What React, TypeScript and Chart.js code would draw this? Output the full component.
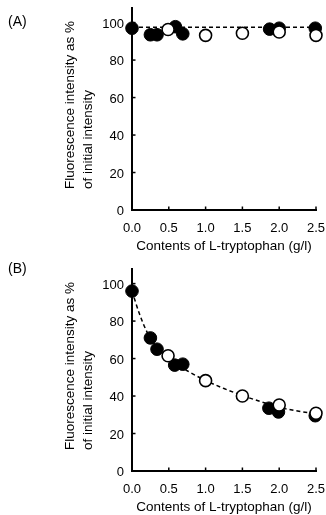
import React, { useEffect, useRef } from "react";
import { Chart, registerables } from "chart.js";

Chart.register(...registerables);

const FONT = "'Liberation Sans', Arial, Helvetica, sans-serif";
Chart.defaults.font.family = FONT;

// Axis ticks
const xTickValues = [0, 0.5, 1.0, 1.5, 2.0, 2.5];
const xTickLabels = ["0.0", "0.5", "1.0", "1.5", "2.0", "2.5"];
const yTickValues = [0, 20, 40, 60, 80, 100];
const yTickLabels = ["0", "20", "40", "60", "80", "100"];

const xTitle = "Contents of L-tryptophan (g/l)";
const yTitle = ["Fluorescence intensity as %", "of initial intensity"];

// Panel A
const aFilledX = [0, 0.25, 0.34, 0.59, 0.69, 1.87, 2.0, 2.49];
const aFilledY = [97, 93.5, 93.5, 97.8, 94, 96.5, 97, 97];
const aOpenX = [0.49, 1.0, 1.5, 2.0, 2.5];
const aOpenY = [96.3, 93.2, 94.3, 95, 93.2];
const aLineX = [0, 2.5];
const aLineY = [97.5, 97.5];

// Panel B
const bFilledX = [0, 0.25, 0.34, 0.58, 0.69, 1.86, 1.99, 2.49];
const bFilledY = [96, 71, 65, 56.5, 57, 33.5, 31.5, 29.5];
const bOpenX = [0.49, 1.0, 1.5, 2.0, 2.5];
const bOpenY = [61.5, 48.2, 40, 35.2, 30.8];
const bCurveX = [0, 0.1, 0.2, 0.3, 0.4, 0.5, 0.6, 0.75, 1.0, 1.25, 1.5, 1.75, 2.0, 2.25, 2.5];
const bCurveY = [96, 84, 74.5, 68, 63.5, 60.5, 57.5, 53.5, 48.3, 44, 40.3, 37, 34, 32, 30.5];

const zip = (xs: number[], ys: number[]) => xs.map((x, i) => ({ x, y: ys[i] }));

function makeDecor(panelLabel: string, panelLabelY: number) {
  return {
    id: "decor",
    beforeDatasetsDraw(chart: any) {
      const { ctx, chartArea: ca, scales } = chart;
      const x = scales.x;
      const y = scales.y;
      ctx.save();
      ctx.strokeStyle = "#000";
      ctx.lineWidth = 1.5;
      for (const t of x.ticks) {
        const px = x.getPixelForValue(t.value);
        ctx.beginPath();
        ctx.moveTo(px, ca.bottom);
        ctx.lineTo(px, ca.bottom - 3.5);
        ctx.stroke();
      }
      for (const t of y.ticks) {
        const py = y.getPixelForValue(t.value);
        ctx.beginPath();
        ctx.moveTo(ca.left, py);
        ctx.lineTo(ca.left + 3.5, py);
        ctx.stroke();
      }
      ctx.fillStyle = "#000";
      ctx.font = `13.5px ${FONT}`;
      ctx.textBaseline = "middle";
      ctx.textAlign = "center";
      ctx.fillText(xTitle, (ca.left + ca.right) / 2, ca.bottom + 36);
      ctx.textAlign = "left";
      ctx.font = `14px ${FONT}`;
      ctx.fillText(panelLabel, 8, panelLabelY);
      ctx.font = `13.5px ${FONT}`;
      ctx.translate(ca.left - 61.5, ca.bottom - 21);
      ctx.rotate(-Math.PI / 2);
      ctx.fillText(yTitle[0], 0, 0);
      ctx.fillText(yTitle[1], 0, 18);
      ctx.restore();
    },
  };
}

type PanelProps = {
  label: string;
  labelY: number;
  height: number;
  filledX: number[];
  filledY: number[];
  openX: number[];
  openY: number[];
  lineX: number[];
  lineY: number[];
};

function Panel(p: PanelProps) {
  const ref = useRef<HTMLCanvasElement>(null);
  useEffect(() => {
    if (!ref.current) return;
    const H = p.height;
    const chart = new Chart(ref.current, {
      type: "scatter",
      data: {
        datasets: [
          {
            data: zip(p.openX, p.openY),
            backgroundColor: "#fff",
            borderColor: "#000",
            borderWidth: 1.6,
            pointRadius: 6,
            clip: false,
            order: 1,
          } as any,
          {
            data: zip(p.filledX, p.filledY),
            backgroundColor: "#000",
            borderColor: "#000",
            borderWidth: 1,
            pointRadius: 6.3,
            clip: false,
            order: 2,
          } as any,
          {
            data: zip(p.lineX, p.lineY),
            showLine: true,
            borderColor: "#000",
            borderWidth: 1.5,
            borderDash: [4, 3],
            pointRadius: 0,
            cubicInterpolationMode: "monotone",
            fill: false,
            clip: false,
            order: 3,
          } as any,
        ],
      },
      options: {
        responsive: false,
        animation: false,
        events: [],
        layout: { padding: { top: 3.8, right: 10, bottom: 0, left: 0 } },
        plugins: { legend: { display: false }, tooltip: { enabled: false } },
        scales: {
          x: {
            type: "linear",
            min: 0,
            max: 2.5,
            afterBuildTicks: (s: any) => {
              s.ticks = xTickValues.map((v) => ({ value: v }));
            },
            afterFit: (s: any) => {
              s.height = H - 210;
              s.paddingLeft = 0;
              s.paddingRight = 0;
            },
            ticks: {
              callback: (_v: any, i: number) => xTickLabels[i],
              color: "#000",
              font: { size: 13 },
              padding: 11,
              maxRotation: 0,
              autoSkip: false,
            },
            grid: { display: false, drawTicks: false },
            border: { display: true, color: "#000", width: 2 },
          },
          y: {
            type: "linear",
            min: 0,
            max: 108,
            afterBuildTicks: (s: any) => {
              s.ticks = yTickValues.map((v) => ({ value: v }));
            },
            afterFit: (s: any) => {
              s.width = 132;
              s.paddingTop = 0;
              s.paddingBottom = 0;
            },
            ticks: {
              callback: (_v: any, i: number) => yTickLabels[i],
              color: "#000",
              font: { size: 13 },
              padding: 8,
              labelOffset: 1.5,
              autoSkip: false,
            },
            grid: { display: false, drawTicks: false },
            border: { display: true, color: "#000", width: 2 },
          },
        },
      } as any,
      plugins: [makeDecor(p.label, p.labelY)],
    });
    return () => chart.destroy();
  }, []);
  return <canvas ref={ref} width={326} height={p.height} style={{ display: "block" }} />;
}

export default function App() {
  return (
    <div style={{ position: "absolute", left: 0, top: 0, width: 326, height: 515, background: "#fff" }}>
      <div style={{ position: "absolute", left: 0, top: 0 }}>
        <Panel
          label="(A)"
          labelY={22}
          height={261}
          filledX={aFilledX}
          filledY={aFilledY}
          openX={aOpenX}
          openY={aOpenY}
          lineX={aLineX}
          lineY={aLineY}
        />
      </div>
      <div style={{ position: "absolute", left: 0, top: 261 }}>
        <Panel
          label="(B)"
          labelY={8}
          height={254}
          filledX={bFilledX}
          filledY={bFilledY}
          openX={bOpenX}
          openY={bOpenY}
          lineX={bCurveX}
          lineY={bCurveY}
        />
      </div>
    </div>
  );
}
